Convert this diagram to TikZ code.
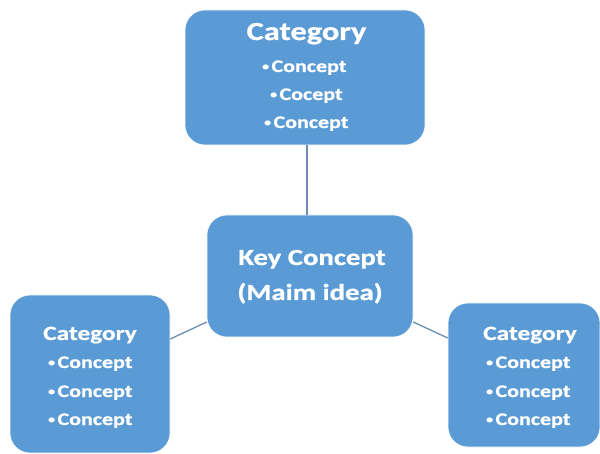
\documentclass[tikz,border=0pt]{standalone}
\usepackage{fontspec}
\newfontfamily\cfont[FakeStretch=1.25,FakeBold=0.8]{Carlito}
\definecolor{boxblue}{HTML}{5B9BD5}
\definecolor{linkblue}{HTML}{6A8DB5}
\newcommand{\bul}{{\fontsize{11}{11}\selectfont\raisebox{2pt}{•}}\hspace{2.5pt}}
\tikzset{
  box/.style={fill=boxblue, draw=white, line width=0.6pt, rounded corners=20pt, inner sep=0pt},
  link/.style={draw=linkblue, line width=1.3pt},
  cat/.style={text=white, font=\cfont\bfseries, anchor=base, inner sep=0pt},
  item/.style={text=white, font=\cfont\bfseries\fontsize{17.6}{18}\selectfont, anchor=base west, inner sep=0pt},
}
\begin{document}
\begin{tikzpicture}[x=1pt,y=-1pt]
\useasboundingbox (0,0) rectangle (600,454);
% boxes
\node[box, minimum width=240pt, minimum height=135pt] (top) at (305,77.5) {};
\node[box, minimum width=206pt, minimum height=122pt] (center) at (310,276) {};
\node[box, minimum width=160pt, minimum height=158pt] (left) at (90,374) {};
\node[box, minimum width=152pt, minimum height=144pt] (right) at (524,375) {};
% connectors
\draw[link] ([xshift=2pt]top.south) -- ([xshift=-3pt]center.north);
\draw[link] ([yshift=35pt]left.east) -- ([yshift=-46pt]center.west);
\draw[link] ([yshift=-46pt]center.east) -- ([yshift=37pt]right.west);
% top texts
\node[cat, font=\cfont\bfseries\fontsize{26}{26}\selectfont] (tcat) at (306.5,40) {Category};
\node[item] (t1) at (262,72) {\bul Concept};
\node[item] (t2) at (270,100) {\bul Cocept};
\node[item] (t3) at (264,128) {\bul Concept};
% center texts
\node[cat, font=\cfont\bfseries\fontsize{23}{23}\selectfont] (c1) at (312,265) {Key Concept};
\node[cat, font=\cfont\bfseries\fontsize{23}{23}\selectfont] (c2) at (310,300) {(Maim idea)};
% left texts
\node[cat, font=\cfont\bfseries\fontsize{20.3}{20}\selectfont] (lcat) at (90,340) {Category};
\node[item] (l1) at (48,368) {\bul Concept};
\node[item] (l2) at (48,397) {\bul Concept};
\node[item] (l3) at (48,425) {\bul Concept};
% right texts
\node[cat, font=\cfont\bfseries\fontsize{20.3}{20}\selectfont] (rcat) at (530,340) {Category};
\node[item] (r1) at (486,368) {\bul Concept};
\node[item] (r2) at (486,397) {\bul Concept};
\node[item] (r3) at (486,425) {\bul Concept};
\end{tikzpicture}
\end{document}
